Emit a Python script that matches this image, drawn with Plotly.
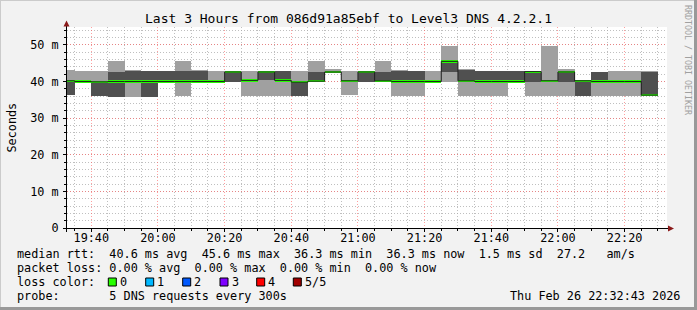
import plotly.graph_objects as go
from datetime import datetime, timedelta

# ---------------- data ----------------
slot_start = ["19:30", "19:35", "19:40", "19:45", "19:50", "19:55",
              "20:00", "20:05", "20:10", "20:15", "20:20", "20:25",
              "20:30", "20:35", "20:40", "20:45", "20:50", "20:55",
              "21:00", "21:05", "21:10", "21:15", "21:20", "21:25",
              "21:30", "21:35", "21:40", "21:45", "21:50", "21:55",
              "22:00", "22:05", "22:10", "22:15", "22:20", "22:25"]
# sorted pings of each 5-minute step (ms)
ping5 = [43.2, 42.9, 42.9, 45.7, 43.2, 42.9, 42.9, 45.7, 43.2, 42.9, 42.6, 42.9,
         42.6, 42.9, 42.9, 45.7, 43.3, 42.9, 42.6, 45.7, 43.2, 42.9, 42.9, 49.6,
         43.5, 42.9, 42.9, 42.9, 42.7, 49.6, 43.4, 40.2, 42.6, 42.9, 42.9, 42.9]
ping4 = [40.2, 40.0, 39.9, 42.7, 42.8, 42.9, 42.9, 42.9, 42.9, 40.0, 42.6, 40.3,
         42.6, 42.9, 39.8, 42.7, 42.6, 40.2, 42.6, 42.7, 42.8, 42.9, 40.0, 45.5,
         43.1, 42.9, 42.9, 42.9, 42.7, 40.2, 42.6, 40.2, 42.6, 40.0, 40.0, 42.6]
median = [40.2, 40.0, 39.9, 40.0, 40.0, 40.0, 40.0, 40.0, 40.0, 40.0, 42.6, 40.3,
          42.6, 40.3, 39.8, 40.1, 42.6, 40.2, 42.6, 40.2, 40.0, 40.0, 40.0, 45.5,
          40.2, 40.0, 40.0, 40.0, 42.7, 40.2, 42.6, 40.2, 40.0, 40.0, 40.0, 36.3]
ping2 = [36.4, 40.0, 36.1, 35.9, 40.0, 35.9, 40.0, 40.0, 40.0, 40.0, 39.9, 40.3,
         40.3, 40.3, 36.1, 40.1, 42.6, 40.2, 39.9, 40.2, 40.0, 40.0, 40.0, 42.7,
         40.2, 40.0, 40.0, 40.0, 39.9, 40.2, 39.9, 36.1, 40.0, 40.0, 40.0, 36.3]
ping1 = [36.4, 40.0, 36.1, 35.9, 35.9, 35.9, 40.0, 36.1, 40.0, 40.0, 39.9, 36.1,
         36.1, 36.1, 36.1, 40.1, 42.6, 36.4, 39.9, 40.2, 36.1, 36.1, 40.0, 39.8,
         36.1, 36.1, 36.1, 40.0, 36.1, 36.1, 36.1, 36.1, 36.1, 36.1, 36.1, 36.3]

y_tickvals = [0, 10, 20, 30, 40, 50]
y_ticktext = ["0", "10 m", "20 m", "30 m", "40 m", "50 m"]

loss_labels = ["0", "1", "2", "3", "4", "5/5"]
loss_colors = ["#26ff00", "#00b8ff", "#0059ff", "#7e00ff", "#ff0000", "#a10000"]

title = "Last 3 Hours from 086d91a85ebf to Level3 DNS 4.2.2.1"
line_rtt = "median rtt:  40.6 ms avg  45.6 ms max  36.3 ms min  36.3 ms now  1.5 ms sd  27.2   am/s"
line_loss = "packet loss: 0.00 % avg  0.00 % max  0.00 % min  0.00 % now"
line_probe = "probe:       5 DNS requests every 300s"
stamp = "Thu Feb 26 22:32:43 2026"

# ---------------- geometry ----------------
W, H = 697, 310
L, R, T, B = 67, 30, 27, 82
PW, PH = W - L - R, H - T - B


def px(x):
    return (x - L) / PW


def py(y):
    return (H - B - y) / PH


day = datetime(2026, 2, 26)
starts = [day + timedelta(hours=int(s[:2]), minutes=int(s[3:])) for s in slot_start]
step = timedelta(minutes=5)
centers = [s + step / 2 for s in starts]
WIDTH_MS = 300000

MONO = "DejaVu Sans Mono"
FS = 11.8

fig = go.Figure()

# outer smoke band (min..max)
fig.add_trace(go.Bar(x=centers, base=ping1, y=[a - b for a, b in zip(ping5, ping1)],
                     width=WIDTH_MS, marker=dict(color="#a0a0a0", line=dict(width=0)),
                     hoverinfo="skip"))
# inner smoke band (2nd..4th)
fig.add_trace(go.Bar(x=centers, base=ping2, y=[a - b for a, b in zip(ping4, ping2)],
                     width=WIDTH_MS, marker=dict(color="#505050", line=dict(width=0)),
                     hoverinfo="skip"))
# median step line
fig.add_trace(go.Scatter(x=starts + [starts[-1] + step], y=median + [median[-1]],
                         mode="lines", line=dict(shape="hv", color="#202020", width=1),
                         hoverinfo="skip"))
# median marker coloured by loss (0 loss -> green)
thick = 0.62
fig.add_trace(go.Bar(x=centers, base=[m - thick / 2 for m in median], y=[thick] * len(median),
                     width=WIDTH_MS, marker=dict(color=loss_colors[0], line=dict(width=0)),
                     hoverinfo="skip"))

grid_minor = "rgba(170,170,170,0.75)"
grid_major = "rgba(255,95,95,0.6)"

fig.update_layout(
    width=W, height=H,
    margin=dict(l=L, r=R, t=T, b=B, pad=0),
    paper_bgcolor="#f2f2f2", plot_bgcolor="#ffffff",
    showlegend=False, barmode="overlay", bargap=0,
    hovermode=False,
    font=dict(family=MONO, size=FS, color="#000000"),
    xaxis=dict(
        type="date",
        range=["2026-02-26 19:32:43", "2026-02-26 22:32:43"],
        tickmode="linear", tick0="2026-02-26 19:40:00", dtick=1200000,
        tickformat="%H:%M",
        showgrid=True, gridcolor=grid_major, griddash="1px,2px", gridwidth=1,
        ticks="outside", ticklen=3, tickcolor="#000000", tickwidth=1,
        tickfont=dict(family=MONO, size=FS, color="#000000"),
        ticklabelstandoff=-4,
        minor=dict(dtick=300000, tick0="2026-02-26 19:40:00", showgrid=True,
                   gridcolor=grid_minor, griddash="1px,2px", gridwidth=1,
                   ticks="outside", ticklen=2, tickcolor="#000000"),
        showline=False, zeroline=False, fixedrange=True,
    ),
    yaxis=dict(
        range=[0, PH / 3.662],
        tickmode="array", tickvals=y_tickvals, ticktext=y_ticktext,
        showgrid=True, gridcolor=grid_major, griddash="1px,2px", gridwidth=1,
        ticks="outside", ticklen=3, tickcolor="#000000",
        tickfont=dict(family=MONO, size=FS, color="#000000"),
        ticklabelstandoff=2,
        minor=dict(tickmode="linear", tick0=0, dtick=2, showgrid=True,
                   gridcolor=grid_minor, griddash="1px,2px", gridwidth=1,
                   ticks="outside", ticklen=2, tickcolor="#000000"),
        showline=False, zeroline=False, fixedrange=True,
    ),
)

shapes = []
# frame (3D style border)
shapes.append(dict(type="line", xref="paper", yref="paper", x0=px(0), x1=px(W), y0=py(0.5), y1=py(0.5),
                   line=dict(color="#cbcbcb", width=1)))
shapes.append(dict(type="line", xref="paper", yref="paper", x0=px(0.5), x1=px(0.5), y0=py(0), y1=py(H),
                   line=dict(color="#cbcbcb", width=1)))
shapes.append(dict(type="line", xref="paper", yref="paper", x0=px(W - 1.5), x1=px(W - 1.5), y0=py(0), y1=py(H),
                   line=dict(color="#999999", width=3)))
shapes.append(dict(type="line", xref="paper", yref="paper", x0=px(0), x1=px(W), y0=py(H - 1.5), y1=py(H - 1.5),
                   line=dict(color="#999999", width=3)))
# axes
shapes.append(dict(type="line", xref="paper", yref="paper", x0=px(63), x1=px(669), y0=py(228.5), y1=py(228.5),
                   line=dict(color="#000000", width=1)))
shapes.append(dict(type="line", xref="paper", yref="paper", x0=px(66.5), x1=px(66.5), y0=py(232), y1=py(24),
                   line=dict(color="#000000", width=1)))
# arrows
shapes.append(dict(type="path", xref="paper", yref="paper",
                   path=f"M {px(668)},{py(225.5)} L {px(674)},{py(228.5)} L {px(668)},{py(231.5)} Z",
                   fillcolor="#8b1a1a", line=dict(width=0)))
shapes.append(dict(type="path", xref="paper", yref="paper",
                   path=f"M {px(63.5)},{py(26.5)} L {px(66.5)},{py(20.5)} L {px(69.5)},{py(26.5)} Z",
                   fillcolor="#8b1a1a", line=dict(width=0)))
# loss colour swatches
sw_left = [108.3, 145.7, 182.7, 220.0, 256.7, 293.3]
for xl, c in zip(sw_left, loss_colors):
    shapes.append(dict(type="rect", xref="paper", yref="paper",
                       x0=px(xl), x1=px(xl + 8), y0=py(278), y1=py(286),
                       fillcolor=c, line=dict(color="#000000", width=1)))
fig.update_layout(shapes=shapes)

NB = "\u00a0"


def ann(text, x, y, xanchor="left", size=FS, color="#000000", angle=0):
    return dict(text=text.replace(" ", NB), xref="paper", yref="paper", x=px(x), y=py(y),
                xanchor=xanchor, yanchor="middle", showarrow=False, borderpad=0,
                textangle=angle, font=dict(family=MONO, size=size, color=color))


anns = [
    ann(title, 348, 19, xanchor="center", size=13),
    ann("Seconds", 11, 127.5, xanchor="center", angle=-90),
    ann("RRDTOOL / TOBI OETIKER", 688, 60, xanchor="center", size=8.3, color="#a0a0a0", angle=90),
    ann(line_rtt, 16, 254),
    ann(line_loss, 16, 268),
    ann("loss color:", 16, 282),
    ann(line_probe, 16, 296),
    ann(stamp, 681, 296, xanchor="right"),
]
for xl, lab in zip(sw_left, loss_labels):
    anns.append(ann(lab, xl + 10.5, 282))
fig.update_layout(annotations=anns)

fig.write_html("out.html")
